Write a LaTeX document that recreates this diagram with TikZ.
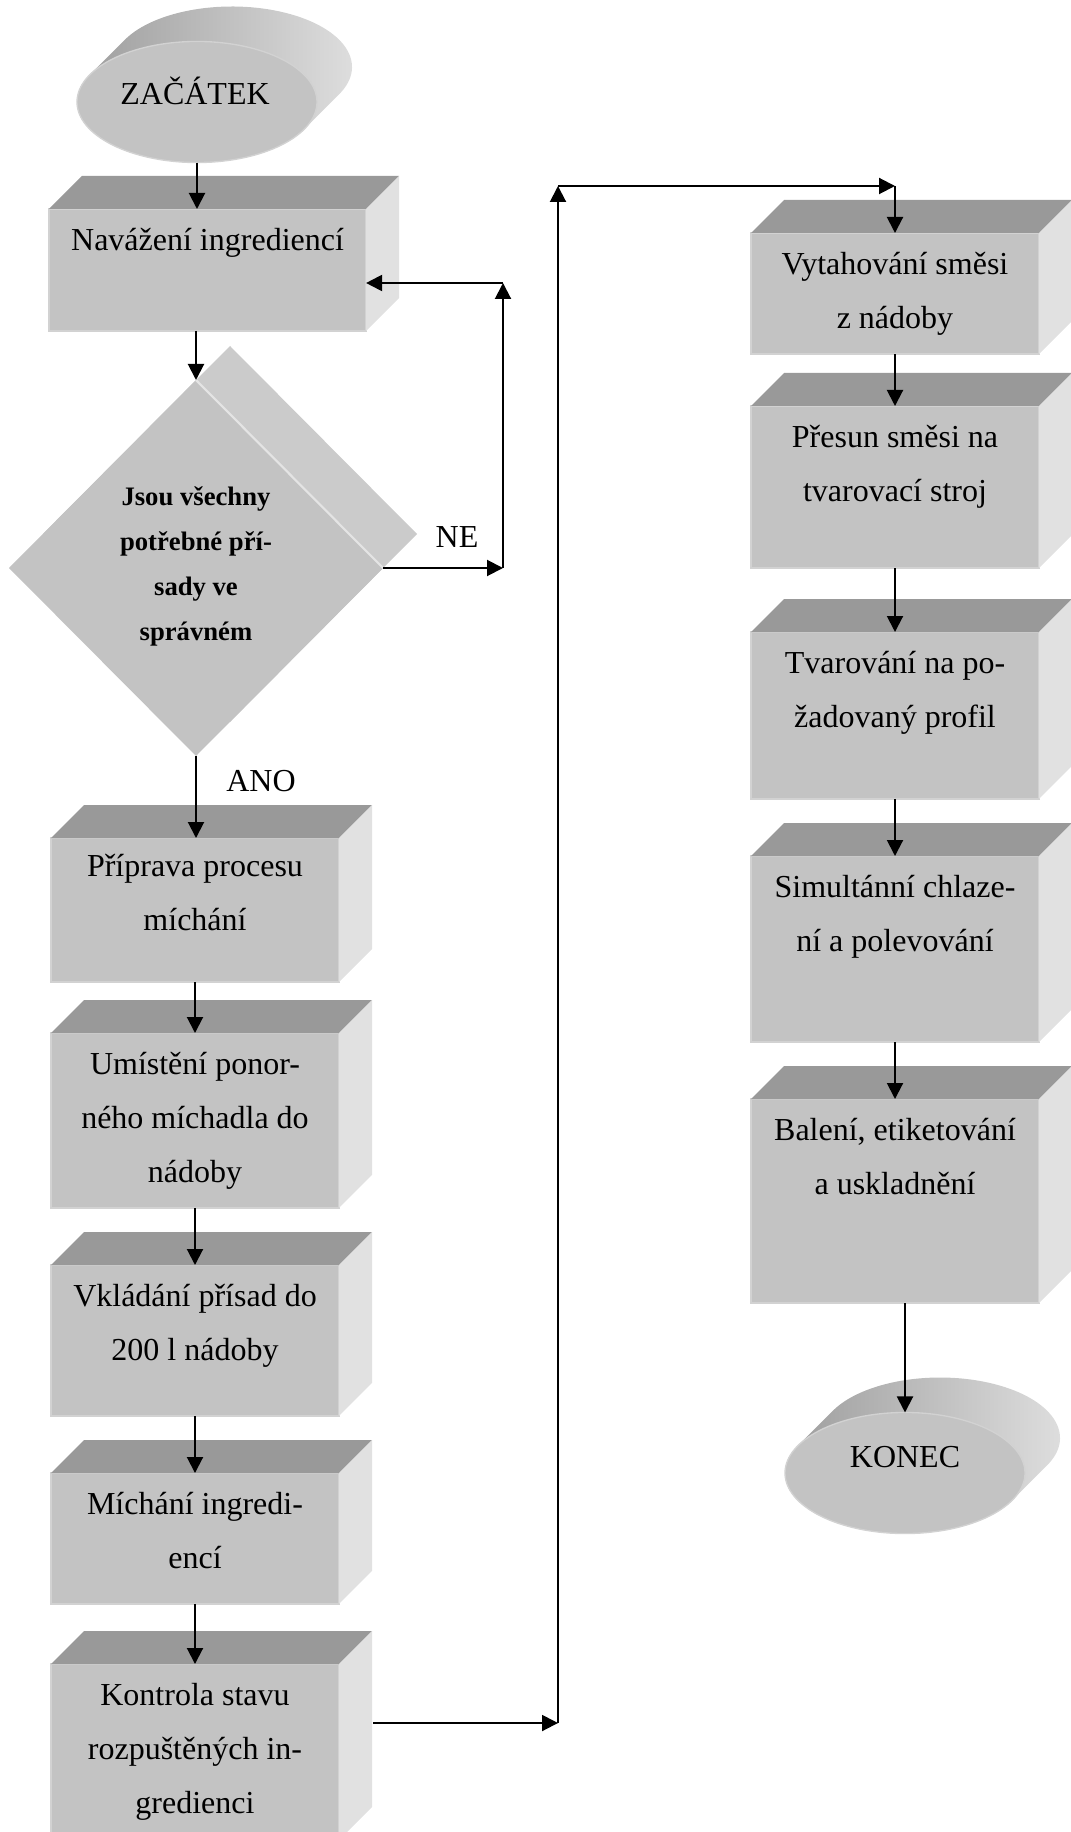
\documentclass[tikz,border=0pt]{standalone}
\usepackage{fontspec}
\setmainfont{Liberation Serif}
\usepackage{tikz}
\usetikzlibrary{calc,positioning,shapes.geometric,arrows.meta}
\definecolor{frontgray}{HTML}{C3C3C3}
\definecolor{topgray}{HTML}{999999}
\definecolor{sidegray}{HTML}{E1E1E1}
\definecolor{backgray}{HTML}{CBCBCB}
\definecolor{rimgray}{HTML}{D2D2D2}

\begin{document}
\begin{tikzpicture}[x=0.375pt,y=-0.375pt,
        >={Triangle[length=6pt,width=6pt]},
        flow/.style={->,line width=0.75pt},
        face/.style={rectangle,fill=frontgray,draw=rimgray,line width=0.5pt,anchor=north west,
            inner sep=0pt,outer sep=0pt,minimum width=108pt},
        txt/.style={align=center,anchor=north,inner sep=0pt,
            font=\fontsize{12}{20.25}\selectfont},
        qtxt/.style={align=center,anchor=north,inner sep=0pt,
            font=\fontsize{10}{16.9}\selectfont\bfseries},
        lbl/.style={anchor=base,inner sep=0pt,font=\fontsize{12}{14}\selectfont},
        oval/.style={ellipse,fill=frontgray,draw=rimgray,line width=0.5pt,inner sep=0pt,
            outer sep=0pt,minimum width=90pt,minimum height=45.4pt},
        rhomb/.style={diamond,inner sep=0pt,outer sep=0pt,minimum width=140.25pt,minimum height=141pt}]
    \useasboundingbox (0,0) rectangle (1071,1832);
    \clip (0,0) rectangle (1071,1832);

    \coordinate (sc) at (197,102);
    \coordinate (ec) at (905,1473);
    \foreach \c in {sc,ec}
        \shade[left color=topgray,right color=sidegray] ($(\c)+(206.57:120 and 60.5)$) -- ++(35,-35)
            arc[start angle=206.57,end angle=386.57,x radius=120,y radius=60.5] -- ++(-35,35)
            arc[start angle=26.57,end angle=206.57,x radius=120,y radius=60.5] -- cycle;
    \node[oval] (start) at (sc) {};
    \node[oval] (end) at (ec) {};
    \node[lbl] (startt) at (195,105) {ZAČÁTEK};
    \node[lbl] (endt) at (905,1467) {KONEC};

    \node[face,minimum width=118.9pt,minimum height=45.75pt] (b1) at (49,209) {};
    \node[face,minimum height=54pt] (b2) at (51,838) {};
    \node[face,minimum height=65.6pt] (b3) at (51,1033) {};
    \node[face,minimum height=56.6pt] (b4) at (51,1265) {};
    \node[face,minimum height=49.1pt] (b5) at (51,1473) {};
    \node[face,minimum height=66pt] (b6) at (51,1664) {};
    \node[face,minimum height=45.4pt] (r1) at (751,233) {};
    \node[face,minimum height=60.75pt] (r2) at (751,406) {};
    \node[face,minimum height=62.6pt] (r3) at (751,632) {};
    \node[face,minimum height=69.75pt] (r4) at (751,856) {};
    \node[face,minimum height=76.5pt] (r5) at (751,1099) {};
    \foreach \b in {b1,b2,b3,b4,b5,b6,r1,r2,r3,r4,r5}{
        \fill[topgray] (\b.north west) -- ++(33,-33) -- ($(\b.north east)+(33,-33)$) -- (\b.north east) -- cycle;
        \fill[sidegray] (\b.north east) -- ++(33,-33) -- ($(\b.south east)+(33,-33)$) -- (\b.south east) -- cycle;
    }

    \node[txt,below=1.1pt of b1.north] (b1t) {\strut Navážení ingrediencí};
    \node[txt,below=0.2pt of b2.north] (b2t) {\strut Příprava procesu\\míchání};
    \node[txt,below=1.1pt of b3.north] (b3t) {\strut Umístění ponor-\\ného míchadla do\\nádoby};
    \node[txt,below=1.1pt of b4.north] (b4t) {\strut Vkládání přísad do\\200 l nádoby};
    \node[txt,below=1.1pt of b5.north] (b5t) {\strut Míchání ingredi-\\encí};
    \node[txt,below=1.1pt of b6.north] (b6t) {\strut Kontrola stavu\\rozpuštěných in-\\gredienci};
    \node[txt,below=1.1pt of r1.north] (r1t) {\strut Vytahování směsi\\z nádoby};
    \node[txt,below=1.1pt of r2.north] (r2t) {\strut Přesun směsi na\\tvarovací stroj};
    \node[txt,below=1.1pt of r3.north] (r3t) {\strut Tvarování na po-\\žadovaný profil};
    \node[txt,below=1.1pt of r4.north] (r4t) {\strut Simultánní chlaze-\\ní a polevování};
    \node[txt,below=1.1pt of r5.north] (r5t) {\strut Balení, etiketování\\a uskladnění};

    \node[rhomb,fill=backgray] (decbk) at (230,534) {};
    \node[rhomb,fill=frontgray] (dec) at (196,568) {};
    \draw[rimgray!60!white,line width=0.8pt] (dec.north) -- (dec.east);
    \node[qtxt] (dect) at (196,473) {\strut Jsou všechny\\potřebné pří-\\sady ve\\správném};
    \node[lbl] (ne) at (457,547) {NE};
    \node[lbl] (ano) at (261,791) {ANO};

    \coordinate (ne1) at (503,568);
    \coordinate (ne2) at (503,283);
    \coordinate (k0) at (373,1723);
    \coordinate (k1) at (558,1723);
    \coordinate (k2) at (558,186);

    \draw[flow] (start.south) -- (start.south |- b1.north);
    \draw[flow] (b1.south -| dec.north) -- (dec.north);
    \draw[flow] (dec.east) -- (ne1);
    \draw[flow] (ne1) -- (ne2);
    \draw[flow] (ne2) -- (ne2 -| b1.east);
    \draw[flow] (dec.south) -- (dec.south |- b2.north);
    \draw[flow] (b2.south) -- (b3.north);
    \draw[flow] (b3.south) -- (b4.north);
    \draw[flow] (b4.south) -- (b5.north);
    \draw[flow] (b5.south) -- (b6.north);
    \draw[flow] (k0) -- (k1);
    \draw[flow] (k1) -- (k2);
    \draw[flow] (k2) -- (k2 -| r1.north);
    \draw[flow] (k2 -| r1.north) -- (r1.north);
    \draw[flow] (r1.south) -- (r2.north);
    \draw[flow] (r2.south) -- (r3.north);
    \draw[flow] (r3.south) -- (r4.north);
    \draw[flow] (r4.south) -- (r5.north);
    \draw[flow] (r5.south -| end.north) -- (end.north);
\end{tikzpicture}
\end{document}
